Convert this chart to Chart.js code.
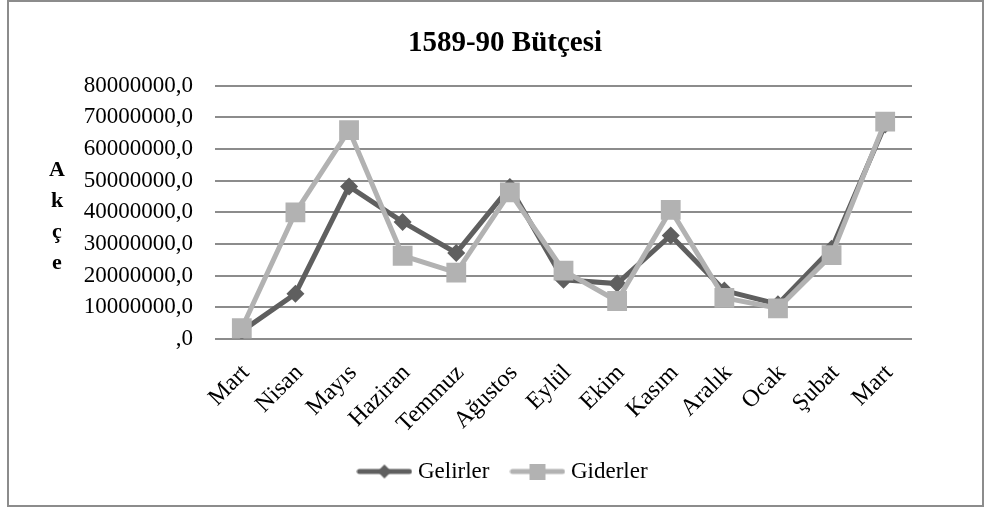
<!DOCTYPE html>
<html>
<head>
<meta charset="utf-8">
<script src="https://cdn.jsdelivr.net/npm/chart.js"></script>
<style>
  html, body { margin: 0; padding: 0; background: #fff; }
  #wrap { position: relative; width: 988px; height: 511px; }
</style>
</head>
<body>
<div id="wrap"><canvas id="chart" width="988" height="511"></canvas></div>
<script>
// veriler (grafikten okunan yaklaşık değerler)
const months = ['Mart', 'Nisan', 'Mayıs', 'Haziran', 'Temmuz', 'Ağustos', 'Eylül', 'Ekim', 'Kasım', 'Aralık', 'Ocak', 'Şubat', 'Mart'];
const gelirler = [2500000, 14300000, 48200000, 37000000, 27200000, 48000000, 18700000, 17500000, 32700000, 15300000, 11000000, 28500000, 67800000];
const giderler = [3400000, 40000000, 66000000, 26300000, 21000000, 46300000, 21600000, 12000000, 40800000, 13000000, 9700000, 26500000, 68700000];
const yTicks = [0, 10000000, 20000000, 30000000, 40000000, 50000000, 60000000, 70000000, 80000000];
const chartTitle = '1589-90 Bütçesi';
const yTitle = ['A', 'k', 'ç', 'e'];

const DARK = '#5f5f5f';
const LIGHT = '#b2b2b2';
const FONT = "'Liberation Serif', 'Times New Roman', serif";

// lejant sembolü: çizgi + işaretçi
function legendSymbol(color, kind) {
  const c = document.createElement('canvas');
  c.width = 56;
  c.height = 16;
  const g = c.getContext('2d');
  g.strokeStyle = color;
  g.lineWidth = 5;
  g.lineCap = 'round';
  g.beginPath();
  g.moveTo(3, 8);
  g.lineTo(53, 8);
  g.stroke();
  g.fillStyle = color;
  if (kind === 'diamond') {
    g.beginPath();
    g.moveTo(28, 1); g.lineTo(35, 8); g.lineTo(28, 15); g.lineTo(21, 8);
    g.closePath();
    g.fill();
  } else {
    g.fillRect(20, 0, 16, 16);
  }
  return c;
}
const symbols = [legendSymbol(DARK, 'diamond'), legendSymbol(LIGHT, 'square')];

const frameAndLetters = {
  id: 'frameAndLetters',
  beforeDraw(chart) {
    const ctx = chart.ctx;
    ctx.save();
    ctx.fillStyle = '#fff';
    ctx.fillRect(0, 0, chart.width, chart.height);
    ctx.strokeStyle = '#8c8c8c';
    ctx.lineWidth = 2;
    ctx.strokeRect(8, 1, 975, 505);
    ctx.restore();
  },
  afterDraw(chart) {
    const ctx = chart.ctx;
    ctx.save();
    ctx.fillStyle = '#000';
    ctx.font = 'bold 22px ' + FONT;
    ctx.textAlign = 'center';
    ctx.textBaseline = 'middle';
    yTitle.forEach((ch, i) => ctx.fillText(ch, 57, 170 + i * 31));
    ctx.restore();
  },
};

new Chart(document.getElementById('chart'), {
  type: 'line',
  data: {
    labels: months,
    datasets: [
      {
        label: 'Gelirler', data: gelirler, borderColor: DARK, backgroundColor: DARK,
        borderWidth: 5, pointStyle: 'rectRot', pointRadius: 9, pointHoverRadius: 9,
        pointBorderWidth: 0, tension: 0, order: 1,
      },
      {
        label: 'Giderler', data: giderler, borderColor: LIGHT, backgroundColor: LIGHT,
        borderWidth: 5, pointStyle: 'rect', pointRadius: 14, pointHoverRadius: 14,
        pointBorderWidth: 0, tension: 0, order: 0,
      },
    ],
  },
  options: {
    responsive: false,
    animation: false,
    events: [],
    layout: { padding: { left: 22, right: 0, top: 0, bottom: 18 } },
    plugins: {
      title: {
        display: true, text: chartTitle, color: '#000',
        font: { family: FONT, size: 29, weight: 'bold' },
        padding: { top: 26, bottom: 25 },
      },
      legend: {
        position: 'bottom',
        labels: {
          color: '#000',
          font: { family: FONT, size: 23 },
          usePointStyle: true,
          pointStyleWidth: 44,
          padding: 26,
          sort: (a, b) => a.datasetIndex - b.datasetIndex,
          generateLabels(chart) {
            const items = Chart.defaults.plugins.legend.labels.generateLabels(chart);
            items.forEach((it) => { it.pointStyle = symbols[it.datasetIndex]; });
            return items;
          },
        },
      },
      tooltip: { enabled: false },
    },
    scales: {
      x: {
        offset: true,
        grid: { display: false },
        border: { display: false },
        ticks: {
          color: '#000', font: { family: FONT, size: 24 },
          minRotation: 45, maxRotation: 45, padding: 12, labelOffset: 4,
        },
        afterFit(scale) { scale.height = 95; },
      },
      y: {
        min: 0, max: 80000000,
        afterBuildTicks(scale) { scale.ticks = yTicks.map((v) => ({ value: v })); },
        grid: { color: '#8c8c8c', lineWidth: 2, drawTicks: false },
        border: { display: false },
        ticks: {
          color: '#000', font: { family: FONT, size: 23 }, padding: 22,
          callback: (v) => (v === 0 ? ',0' : v + ',0'),
        },
        afterFit(scale) { scale.width = 193; },
      },
      // sağ tarafta boş alan bırakmak için görünmez eksen
      yRight: {
        position: 'right',
        min: 0, max: 80000000,
        grid: { display: false, drawTicks: false },
        border: { display: false },
        ticks: { callback: () => '' },
        afterFit(scale) { scale.width = 76; },
      },
    },
  },
  plugins: [frameAndLetters],
});
</script>
</body>
</html>
